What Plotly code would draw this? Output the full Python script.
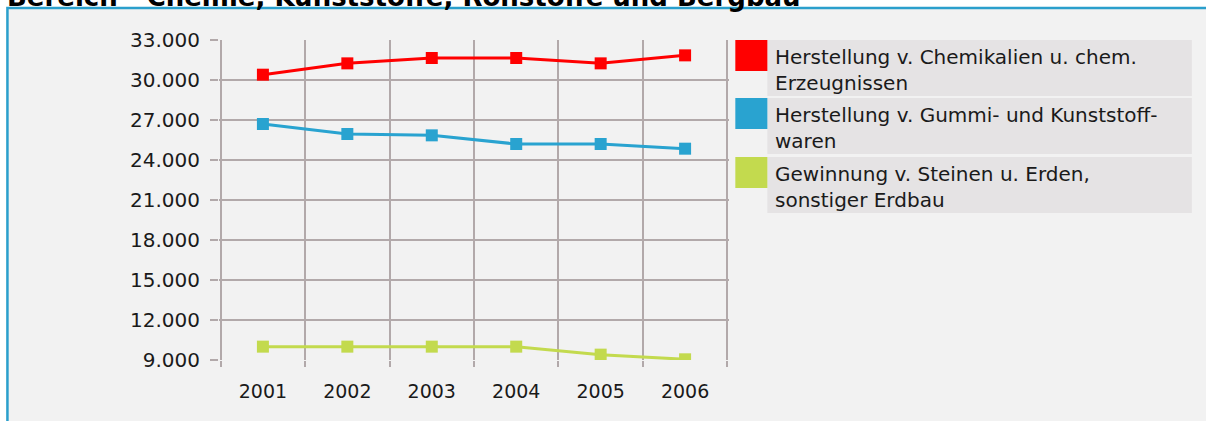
import plotly.graph_objects as go

# ---- data ----
years = [2001, 2002, 2003, 2004, 2005, 2006]
chemikalien = [30400, 31250, 31650, 31650, 31250, 31850]
gummi = [26700, 25950, 25850, 25200, 25200, 24850]
steine = [10000, 10000, 10000, 10000, 9400, 9050]

series_names = [
    "Herstellung v. Chemikalien u. chem.<br>Erzeugnissen",
    "Herstellung v. Gummi- und Kunststoff-<br>waren",
    "Gewinnung v. Steinen u. Erden,<br>sonstiger Erdbau",
]
series_values = [chemikalien, gummi, steine]
series_colors = ["#ff0000", "#29a3d0", "#c3da4e"]
title_text = "Bereich - Chemie, Kunststoffe, Rohstoffe und Bergbau"
y_ticks = [9000, 12000, 15000, 18000, 21000, 24000, 27000, 30000, 33000]
x_bounds = [2000.5, 2001.5, 2002.5, 2003.5, 2004.5, 2005.5, 2006.5]

# ---- layout geometry (pixels) ----
W, H = 1206, 421
XPAD = 0.02                      # category units added at each side of x range
PL0, PR0, PT, PB = 221, 727, 40, 360   # gridline frame of the plot
unit = (PR0 - PL0) / 6.0
PL = PL0 - XPAD * unit
PR = PR0 + XPAD * unit
grid_col = "#b2a9aa"


def px(x):
    return (x - PL) / (PR - PL)


def py(y):
    return (PB - y) / (PB - PT)


fig = go.Figure()
for name, vals, col in zip(series_names, series_values, series_colors):
    fig.add_trace(go.Scatter(
        x=years, y=vals, name=name, mode="lines+markers",
        line=dict(color=col, width=3),
        marker=dict(symbol="square", size=12, color=col),
        showlegend=False,
    ))

shapes = []
# outer frame (light gray panel with blue top/left border)
shapes.append(dict(type="rect", xref="paper", yref="paper",
                   x0=px(8), x1=px(1230), y0=py(440), y1=py(8),
                   fillcolor="#f2f2f2", line=dict(color="#2a9fcc", width=2.5),
                   layer="below"))

annotations = []
# custom legend
rows = [(40, 96), (98, 154), (157, 213)]
for (y0, y1), name, col in zip(rows, series_names, series_colors):
    shapes.append(dict(type="rect", xref="paper", yref="paper",
                       x0=px(767), x1=px(1191), y0=py(y1), y1=py(y0),
                       fillcolor="#e5e3e4", line=dict(width=0), layer="below"))
    shapes.append(dict(type="rect", xref="paper", yref="paper",
                       x0=px(735), x1=px(767), y0=py(y0 + 31), y1=py(y0),
                       fillcolor=col, line=dict(width=0), layer="below"))
    annotations.append(dict(xref="paper", yref="paper", x=px(773), y=py(y0 + 3),
                            xanchor="left", yanchor="top", align="left",
                            text=name, showarrow=False,
                            font=dict(family="DejaVu Sans", size=20, color="#1a1a1a")))

# title (cut off at top of page, as in the reference)
annotations.append(dict(xref="paper", yref="paper", x=px(6), y=py(-3),
                        xanchor="left", yanchor="middle", text="<b>" + title_text + "</b>",
                        showarrow=False,
                        font=dict(family="DejaVu Sans", size=26, color="#000000")))

fig.update_layout(
    width=W, height=H,
    margin=dict(l=PL, r=W - PR, t=PT, b=H - PB, pad=0),
    paper_bgcolor="#ffffff",
    plot_bgcolor="rgba(0,0,0,0)",
    separators=",.",
    shapes=shapes,
    annotations=annotations,
    showlegend=False,
    font=dict(family="DejaVu Sans", size=19, color="#1a1a1a"),
)
fig.update_xaxes(
    range=[2000.5 - XPAD, 2006.5 + XPAD],
    tickmode="array", tickvals=years, ticktext=[str(y) for y in years],
    showgrid=False, zeroline=False, showline=False, ticks="",
    ticklabelstandoff=18,
    tickfont=dict(family="DejaVu Sans", size=19, color="#1a1a1a"),
    minor=dict(tickmode="array", tickvals=x_bounds, showgrid=True,
               gridcolor=grid_col, gridwidth=2, ticks="outside", ticklen=6,
               tickcolor=grid_col, tickwidth=2),
    fixedrange=True,
)
fig.update_yaxes(
    range=[9000 - 2, 33000 + 2],
    tickmode="array", tickvals=y_ticks, tickformat=",d",
    showgrid=True, gridcolor=grid_col, gridwidth=2,
    zeroline=False, showline=False,
    ticks="outside", ticklen=8, tickcolor=grid_col, tickwidth=2,
    ticklabelstandoff=6,
    tickfont=dict(family="DejaVu Sans", size=20, color="#1a1a1a"),
    fixedrange=True,
)

fig.write_html("out.html", config={"displayModeBar": False},
               post_script="document.body.style.margin='0';")
